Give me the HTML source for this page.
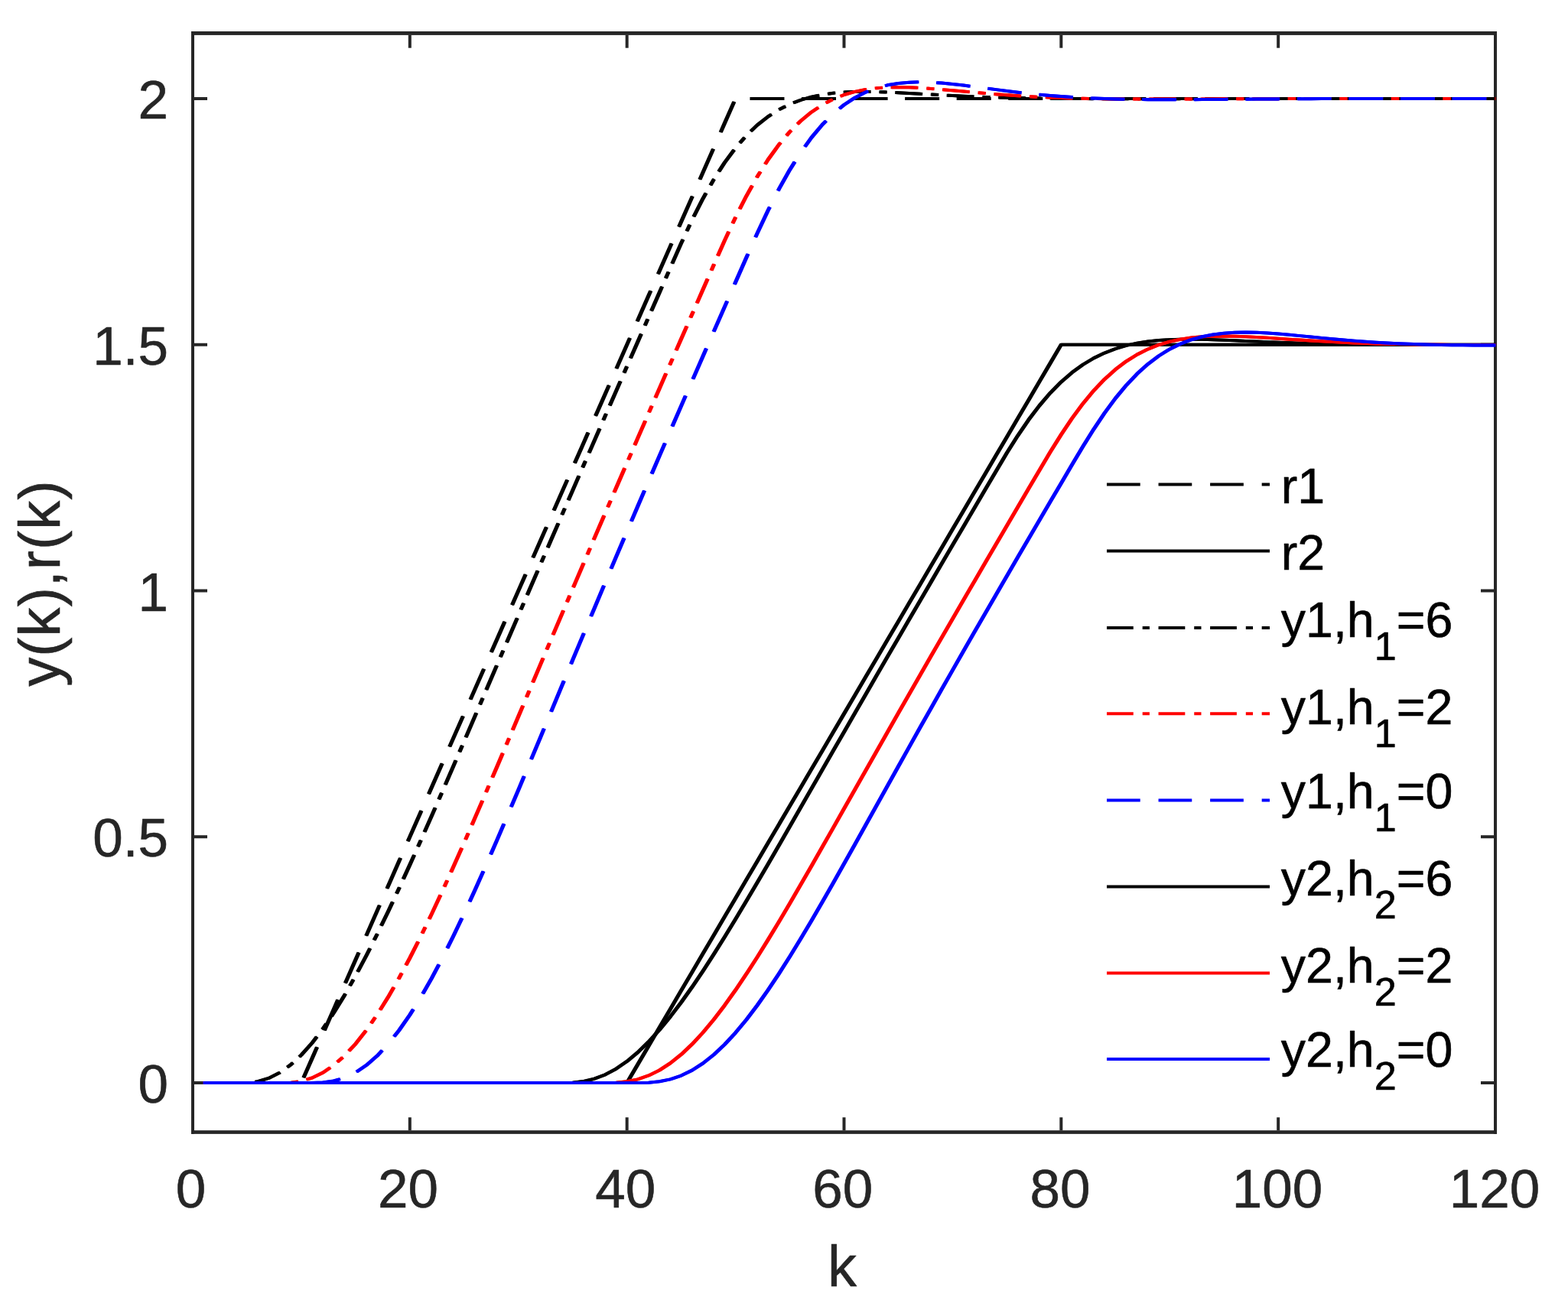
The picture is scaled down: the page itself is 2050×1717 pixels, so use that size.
<!DOCTYPE html><html><head><meta charset="utf-8"><style>html,body{margin:0;padding:0;background:#fff;overflow:hidden;}svg{display:block;}text{font-family:"Liberation Sans",Arial,Helvetica,sans-serif;stroke-width:0.6px;stroke-linejoin:round;}</style></head><body>
<svg width="2050" height="1717" viewBox="0 0 2050 1717">
<rect x="0" y="0" width="2050" height="1717" fill="#fff"/>
<g fill="#262626">
<rect x="250" y="41" width="4" height="1441.85"/>
<rect x="1953" y="41" width="4" height="1441.85"/>
<rect x="250" y="41" width="1707" height="4.9"/>
<rect x="250" y="1478.2" width="1707" height="4.65"/>
<rect x="250.00" y="45.9" width="4" height="16.8"/>
<rect x="250.00" y="1461.2" width="4" height="17"/>
<rect x="533.83" y="45.9" width="4" height="16.8"/>
<rect x="533.83" y="1461.2" width="4" height="17"/>
<rect x="817.67" y="45.9" width="4" height="16.8"/>
<rect x="817.67" y="1461.2" width="4" height="17"/>
<rect x="1101.50" y="45.9" width="4" height="16.8"/>
<rect x="1101.50" y="1461.2" width="4" height="17"/>
<rect x="1385.33" y="45.9" width="4" height="16.8"/>
<rect x="1385.33" y="1461.2" width="4" height="17"/>
<rect x="1669.17" y="45.9" width="4" height="16.8"/>
<rect x="1669.17" y="1461.2" width="4" height="17"/>
<rect x="1953.00" y="45.9" width="4" height="16.8"/>
<rect x="1953.00" y="1461.2" width="4" height="17"/>
<rect x="254" y="1414.00" width="17" height="4"/>
<rect x="1936" y="1414.00" width="17" height="4"/>
<rect x="254" y="1092.25" width="17" height="4"/>
<rect x="1936" y="1092.25" width="17" height="4"/>
<rect x="254" y="770.50" width="17" height="4"/>
<rect x="1936" y="770.50" width="17" height="4"/>
<rect x="254" y="448.75" width="17" height="4"/>
<rect x="1936" y="448.75" width="17" height="4"/>
<rect x="254" y="127.00" width="17" height="4"/>
<rect x="1936" y="127.00" width="17" height="4"/>
</g>
<g fill="#262626" stroke="#262626" font-size="71">
<text x="249.50" y="1578.6" text-anchor="middle">0</text>
<text x="533.60" y="1578.6" text-anchor="middle">20</text>
<text x="817.70" y="1578.6" text-anchor="middle">40</text>
<text x="1101.80" y="1578.6" text-anchor="middle">60</text>
<text x="1385.90" y="1578.6" text-anchor="middle">80</text>
<text x="1670.00" y="1578.6" text-anchor="middle">100</text>
<text x="1954.10" y="1578.6" text-anchor="middle">120</text>
<text x="220" y="1442.00" text-anchor="end">0</text>
<text x="220" y="1120.25" text-anchor="end">0.5</text>
<text x="220" y="798.50" text-anchor="end">1</text>
<text x="220" y="476.75" text-anchor="end">1.5</text>
<text x="220" y="155.00" text-anchor="end">2</text>
</g>
<text x="1100.9" y="1682" font-size="76" fill="#262626" stroke="#262626" text-anchor="middle">k</text>
<text transform="translate(77.9,765.4) rotate(-90)" x="-132.4" y="0" font-size="76" fill="#262626" stroke="#262626" textLength="269.3" lengthAdjust="spacing">y(k),r(k)</text>
<g fill="none" stroke-width="4" stroke-linejoin="round" stroke-linecap="butt">
<path d="M266.19,1416.00 L280.38,1416.00 L294.57,1416.00 L308.77,1416.00 L322.96,1416.00 L337.15,1416.00 L351.34,1416.00 L365.53,1416.00 L379.73,1416.00 L393.92,1416.00 L408.11,1383.83 L422.30,1351.65 L436.49,1319.47 L450.68,1287.30 L464.88,1255.12 L479.07,1222.95 L493.26,1190.78 L507.45,1158.60 L521.64,1126.42 L535.83,1094.25 L550.02,1062.08 L564.22,1029.90 L578.41,997.72 L592.60,965.55 L606.79,933.38 L620.98,901.20 L635.17,869.02 L649.37,836.85 L663.56,804.67 L677.75,772.50 L691.94,740.32 L706.13,708.15 L720.33,675.97 L734.52,643.80 L748.71,611.62 L762.90,579.45 L777.09,547.27 L791.28,515.10 L805.48,482.92 L819.67,450.75 L833.86,418.57 L848.05,386.40 L862.24,354.22 L876.43,322.05 L890.62,289.88 L904.82,257.70 L919.01,225.52 L933.20,193.35 L947.39,161.17 L961.58,129.00 L975.77,129.00 L989.97,129.00 L1004.16,129.00 L1018.35,129.00 L1032.54,129.00 L1046.73,129.00 L1060.92,129.00 L1075.12,129.00 L1089.31,129.00 L1103.50,129.00 L1117.69,129.00 L1131.88,129.00 L1146.07,129.00 L1160.27,129.00 L1174.46,129.00 L1188.65,129.00 L1202.84,129.00 L1217.03,129.00 L1231.22,129.00 L1245.42,129.00 L1259.61,129.00 L1273.80,129.00 L1287.99,129.00 L1302.18,129.00 L1316.38,129.00 L1330.57,129.00 L1344.76,129.00 L1358.95,129.00 L1373.14,129.00 L1387.33,129.00 L1401.53,129.00 L1415.72,129.00 L1429.91,129.00 L1444.10,129.00 L1458.29,129.00 L1472.48,129.00 L1486.67,129.00 L1500.87,129.00 L1515.06,129.00 L1529.25,129.00 L1543.44,129.00 L1557.63,129.00 L1571.83,129.00 L1586.02,129.00 L1600.21,129.00 L1614.40,129.00 L1628.59,129.00 L1642.78,129.00 L1656.97,129.00 L1671.17,129.00 L1685.36,129.00 L1699.55,129.00 L1713.74,129.00 L1727.93,129.00 L1742.12,129.00 L1756.32,129.00 L1770.51,129.00 L1784.70,129.00 L1798.89,129.00 L1813.08,129.00 L1827.27,129.00 L1841.47,129.00 L1855.66,129.00 L1869.85,129.00 L1884.04,129.00 L1898.23,129.00 L1912.42,129.00 L1926.62,129.00 L1940.81,129.00 L1955.00,129.00" stroke="#000" stroke-dasharray="43.72 23.84" transform="translate(-0.65,0)"/>
<path d="M266.19,1416.00 L280.38,1416.00 L294.57,1416.00 L308.77,1416.00 L322.96,1416.00 L337.15,1416.00 L351.34,1416.00 L365.53,1416.00 L379.73,1416.00 L393.92,1416.00 L408.11,1383.83 L422.30,1351.65 L436.49,1319.47 L450.68,1287.30 L464.88,1255.12 L479.07,1222.95 L493.26,1190.78 L507.45,1158.60 L521.64,1126.42 L535.83,1094.25 L550.02,1062.08 L564.22,1029.90 L578.41,997.72 L592.60,965.55 L606.79,933.38 L620.98,901.20 L635.17,869.02 L649.37,836.85 L663.56,804.67 L677.75,772.50 L691.94,740.32 L706.13,708.15 L720.33,675.97 L734.52,643.80 L748.71,611.62 L762.90,579.45 L777.09,547.27 L791.28,515.10 L805.48,482.92 L819.67,450.75 L833.86,418.57 L848.05,386.40 L862.24,354.22 L876.43,322.05 L890.62,289.88 L904.82,257.70 L919.01,225.52 L933.20,193.35 L947.39,161.17 L961.58,129.00 L975.77,129.00 L989.97,129.00 L1004.16,129.00 L1018.35,129.00 L1032.54,129.00 L1046.73,129.00 L1060.92,129.00 L1075.12,129.00 L1089.31,129.00 L1103.50,129.00 L1117.69,129.00 L1131.88,129.00 L1146.07,129.00 L1160.27,129.00 L1174.46,129.00 L1188.65,129.00 L1202.84,129.00 L1217.03,129.00 L1231.22,129.00 L1245.42,129.00 L1259.61,129.00 L1273.80,129.00 L1287.99,129.00 L1302.18,129.00 L1316.38,129.00 L1330.57,129.00 L1344.76,129.00 L1358.95,129.00 L1373.14,129.00 L1387.33,129.00 L1401.53,129.00 L1415.72,129.00 L1429.91,129.00 L1444.10,129.00 L1458.29,129.00 L1472.48,129.00 L1486.67,129.00 L1500.87,129.00 L1515.06,129.00 L1529.25,129.00 L1543.44,129.00 L1557.63,129.00 L1571.83,129.00 L1586.02,129.00 L1600.21,129.00 L1614.40,129.00 L1628.59,129.00 L1642.78,129.00 L1656.97,129.00 L1671.17,129.00 L1685.36,129.00 L1699.55,129.00 L1713.74,129.00 L1727.93,129.00 L1742.12,129.00 L1756.32,129.00 L1770.51,129.00 L1784.70,129.00 L1798.89,129.00 L1813.08,129.00 L1827.27,129.00 L1841.47,129.00 L1855.66,129.00 L1869.85,129.00 L1884.04,129.00 L1898.23,129.00 L1912.42,129.00 L1926.62,129.00 L1940.81,129.00 L1955.00,129.00" stroke="#000" stroke-dasharray="43.72 23.84" transform="translate(0.65,0)"/>
<path d="M266.19,1416.00 L280.38,1416.00 L294.57,1416.00 L308.77,1416.00 L322.96,1416.00 L337.15,1416.00 L351.34,1416.00 L365.53,1416.00 L379.73,1416.00 L393.92,1416.00 L408.11,1416.00 L422.30,1416.00 L436.49,1416.00 L450.68,1416.00 L464.88,1416.00 L479.07,1416.00 L493.26,1416.00 L507.45,1416.00 L521.64,1416.00 L535.83,1416.00 L550.02,1416.00 L564.22,1416.00 L578.41,1416.00 L592.60,1416.00 L606.79,1416.00 L620.98,1416.00 L635.17,1416.00 L649.37,1416.00 L663.56,1416.00 L677.75,1416.00 L691.94,1416.00 L706.13,1416.00 L720.33,1416.00 L734.52,1416.00 L748.71,1416.00 L762.90,1416.00 L777.09,1416.00 L791.28,1416.00 L805.48,1416.00 L819.67,1416.00 L833.86,1391.87 L848.05,1367.74 L862.24,1343.61 L876.43,1319.47 L890.62,1295.34 L904.82,1271.21 L919.01,1247.08 L933.20,1222.95 L947.39,1198.82 L961.58,1174.69 L975.77,1150.56 L989.97,1126.42 L1004.16,1102.29 L1018.35,1078.16 L1032.54,1054.03 L1046.73,1029.90 L1060.92,1005.77 L1075.12,981.64 L1089.31,957.51 L1103.50,933.38 L1117.69,909.24 L1131.88,885.11 L1146.07,860.98 L1160.27,836.85 L1174.46,812.72 L1188.65,788.59 L1202.84,764.46 L1217.03,740.32 L1231.22,716.19 L1245.42,692.06 L1259.61,667.93 L1273.80,643.80 L1287.99,619.67 L1302.18,595.54 L1316.38,571.41 L1330.57,547.28 L1344.76,523.14 L1358.95,499.01 L1373.14,474.88 L1387.33,450.75 L1401.53,450.75 L1415.72,450.75 L1429.91,450.75 L1444.10,450.75 L1458.29,450.75 L1472.48,450.75 L1486.67,450.75 L1500.87,450.75 L1515.06,450.75 L1529.25,450.75 L1543.44,450.75 L1557.63,450.75 L1571.83,450.75 L1586.02,450.75 L1600.21,450.75 L1614.40,450.75 L1628.59,450.75 L1642.78,450.75 L1656.97,450.75 L1671.17,450.75 L1685.36,450.75 L1699.55,450.75 L1713.74,450.75 L1727.93,450.75 L1742.12,450.75 L1756.32,450.75 L1770.51,450.75 L1784.70,450.75 L1798.89,450.75 L1813.08,450.75 L1827.27,450.75 L1841.47,450.75 L1855.66,450.75 L1869.85,450.75 L1884.04,450.75 L1898.23,450.75 L1912.42,450.75 L1926.62,450.75 L1940.81,450.75 L1955.00,450.75" stroke="#000" transform="translate(-0.65,0)"/>
<path d="M266.19,1416.00 L280.38,1416.00 L294.57,1416.00 L308.77,1416.00 L322.96,1416.00 L337.15,1416.00 L351.34,1416.00 L365.53,1416.00 L379.73,1416.00 L393.92,1416.00 L408.11,1416.00 L422.30,1416.00 L436.49,1416.00 L450.68,1416.00 L464.88,1416.00 L479.07,1416.00 L493.26,1416.00 L507.45,1416.00 L521.64,1416.00 L535.83,1416.00 L550.02,1416.00 L564.22,1416.00 L578.41,1416.00 L592.60,1416.00 L606.79,1416.00 L620.98,1416.00 L635.17,1416.00 L649.37,1416.00 L663.56,1416.00 L677.75,1416.00 L691.94,1416.00 L706.13,1416.00 L720.33,1416.00 L734.52,1416.00 L748.71,1416.00 L762.90,1416.00 L777.09,1416.00 L791.28,1416.00 L805.48,1416.00 L819.67,1416.00 L833.86,1391.87 L848.05,1367.74 L862.24,1343.61 L876.43,1319.47 L890.62,1295.34 L904.82,1271.21 L919.01,1247.08 L933.20,1222.95 L947.39,1198.82 L961.58,1174.69 L975.77,1150.56 L989.97,1126.42 L1004.16,1102.29 L1018.35,1078.16 L1032.54,1054.03 L1046.73,1029.90 L1060.92,1005.77 L1075.12,981.64 L1089.31,957.51 L1103.50,933.38 L1117.69,909.24 L1131.88,885.11 L1146.07,860.98 L1160.27,836.85 L1174.46,812.72 L1188.65,788.59 L1202.84,764.46 L1217.03,740.32 L1231.22,716.19 L1245.42,692.06 L1259.61,667.93 L1273.80,643.80 L1287.99,619.67 L1302.18,595.54 L1316.38,571.41 L1330.57,547.28 L1344.76,523.14 L1358.95,499.01 L1373.14,474.88 L1387.33,450.75 L1401.53,450.75 L1415.72,450.75 L1429.91,450.75 L1444.10,450.75 L1458.29,450.75 L1472.48,450.75 L1486.67,450.75 L1500.87,450.75 L1515.06,450.75 L1529.25,450.75 L1543.44,450.75 L1557.63,450.75 L1571.83,450.75 L1586.02,450.75 L1600.21,450.75 L1614.40,450.75 L1628.59,450.75 L1642.78,450.75 L1656.97,450.75 L1671.17,450.75 L1685.36,450.75 L1699.55,450.75 L1713.74,450.75 L1727.93,450.75 L1742.12,450.75 L1756.32,450.75 L1770.51,450.75 L1784.70,450.75 L1798.89,450.75 L1813.08,450.75 L1827.27,450.75 L1841.47,450.75 L1855.66,450.75 L1869.85,450.75 L1884.04,450.75 L1898.23,450.75 L1912.42,450.75 L1926.62,450.75 L1940.81,450.75 L1955.00,450.75" stroke="#000" transform="translate(0.65,0)"/>
<path d="M266.19,1416.00 L280.38,1416.00 L294.57,1416.00 L308.77,1416.00 L322.96,1415.92 L337.15,1414.23 L351.34,1409.95 L365.53,1402.81 L379.73,1392.69 L393.92,1379.62 L408.11,1363.71 L422.30,1345.17 L436.49,1324.21 L450.68,1301.09 L464.88,1276.06 L479.07,1249.39 L493.26,1221.32 L507.45,1192.09 L521.64,1161.89 L535.83,1130.91 L550.02,1099.33 L564.22,1067.28 L578.41,1034.88 L592.60,1002.23 L606.79,969.41 L620.98,936.50 L635.17,903.54 L649.37,870.58 L663.56,837.63 L677.75,804.73 L691.94,771.88 L706.13,739.10 L720.33,706.39 L734.52,673.75 L748.71,641.18 L762.90,608.66 L777.09,576.21 L791.28,543.81 L805.48,511.45 L819.67,479.14 L833.86,446.86 L848.05,414.61 L862.24,382.38 L876.43,350.17 L890.62,318.05 L904.82,287.57 L919.01,259.67 L933.20,234.65 L947.39,212.61 L961.58,193.52 L975.77,177.27 L989.97,163.65 L1004.16,152.46 L1018.35,143.42 L1032.54,136.29 L1046.73,130.80 L1060.92,126.70 L1075.12,123.78 L1089.31,121.81 L1103.50,120.62 L1117.69,120.04 L1131.88,119.92 L1146.07,120.15 L1160.27,120.63 L1174.46,121.27 L1188.65,122.01 L1202.84,122.79 L1217.03,123.59 L1231.22,124.36 L1245.42,125.08 L1259.61,125.75 L1273.80,126.36 L1287.99,126.89 L1302.18,127.36 L1316.38,127.76 L1330.57,128.10 L1344.76,128.37 L1358.95,128.60 L1373.14,128.78 L1387.33,128.92 L1401.53,129.03 L1415.72,129.10 L1429.91,129.15 L1444.10,129.19 L1458.29,129.21 L1472.48,129.21 L1486.67,129.21 L1500.87,129.20 L1515.06,129.19 L1529.25,129.17 L1543.44,129.15 L1557.63,129.13 L1571.83,129.11 L1586.02,129.10 L1600.21,129.08 L1614.40,129.07 L1628.59,129.05 L1642.78,129.04 L1656.97,129.03 L1671.17,129.02 L1685.36,129.02 L1699.55,129.01 L1713.74,129.01 L1727.93,129.00 L1742.12,129.00 L1756.32,129.00 L1770.51,129.00 L1784.70,129.00 L1798.89,129.00 L1813.08,129.00 L1827.27,129.00 L1841.47,129.00 L1855.66,129.00 L1869.85,129.00 L1884.04,129.00 L1898.23,129.00 L1912.42,129.00 L1926.62,129.00 L1940.81,129.00 L1955.00,129.00" stroke="#000" stroke-dasharray="34.77 11.92 9.24 11.63" transform="translate(-0.65,0)"/>
<path d="M266.19,1416.00 L280.38,1416.00 L294.57,1416.00 L308.77,1416.00 L322.96,1415.92 L337.15,1414.23 L351.34,1409.95 L365.53,1402.81 L379.73,1392.69 L393.92,1379.62 L408.11,1363.71 L422.30,1345.17 L436.49,1324.21 L450.68,1301.09 L464.88,1276.06 L479.07,1249.39 L493.26,1221.32 L507.45,1192.09 L521.64,1161.89 L535.83,1130.91 L550.02,1099.33 L564.22,1067.28 L578.41,1034.88 L592.60,1002.23 L606.79,969.41 L620.98,936.50 L635.17,903.54 L649.37,870.58 L663.56,837.63 L677.75,804.73 L691.94,771.88 L706.13,739.10 L720.33,706.39 L734.52,673.75 L748.71,641.18 L762.90,608.66 L777.09,576.21 L791.28,543.81 L805.48,511.45 L819.67,479.14 L833.86,446.86 L848.05,414.61 L862.24,382.38 L876.43,350.17 L890.62,318.05 L904.82,287.57 L919.01,259.67 L933.20,234.65 L947.39,212.61 L961.58,193.52 L975.77,177.27 L989.97,163.65 L1004.16,152.46 L1018.35,143.42 L1032.54,136.29 L1046.73,130.80 L1060.92,126.70 L1075.12,123.78 L1089.31,121.81 L1103.50,120.62 L1117.69,120.04 L1131.88,119.92 L1146.07,120.15 L1160.27,120.63 L1174.46,121.27 L1188.65,122.01 L1202.84,122.79 L1217.03,123.59 L1231.22,124.36 L1245.42,125.08 L1259.61,125.75 L1273.80,126.36 L1287.99,126.89 L1302.18,127.36 L1316.38,127.76 L1330.57,128.10 L1344.76,128.37 L1358.95,128.60 L1373.14,128.78 L1387.33,128.92 L1401.53,129.03 L1415.72,129.10 L1429.91,129.15 L1444.10,129.19 L1458.29,129.21 L1472.48,129.21 L1486.67,129.21 L1500.87,129.20 L1515.06,129.19 L1529.25,129.17 L1543.44,129.15 L1557.63,129.13 L1571.83,129.11 L1586.02,129.10 L1600.21,129.08 L1614.40,129.07 L1628.59,129.05 L1642.78,129.04 L1656.97,129.03 L1671.17,129.02 L1685.36,129.02 L1699.55,129.01 L1713.74,129.01 L1727.93,129.00 L1742.12,129.00 L1756.32,129.00 L1770.51,129.00 L1784.70,129.00 L1798.89,129.00 L1813.08,129.00 L1827.27,129.00 L1841.47,129.00 L1855.66,129.00 L1869.85,129.00 L1884.04,129.00 L1898.23,129.00 L1912.42,129.00 L1926.62,129.00 L1940.81,129.00 L1955.00,129.00" stroke="#000" stroke-dasharray="34.77 11.92 9.24 11.63" transform="translate(0.65,0)"/>
<path d="M266.19,1416.00 L280.38,1416.00 L294.57,1416.00 L308.77,1416.00 L322.96,1416.00 L337.15,1416.00 L351.34,1416.00 L365.53,1416.00 L379.73,1415.73 L393.92,1413.79 L408.11,1409.53 L422.30,1402.63 L436.49,1392.93 L450.68,1380.38 L464.88,1365.04 L479.07,1347.06 L493.26,1326.61 L507.45,1303.92 L521.64,1279.22 L535.83,1252.75 L550.02,1224.77 L564.22,1195.50 L578.41,1165.15 L592.60,1133.93 L606.79,1102.02 L620.98,1069.57 L635.17,1036.72 L649.37,1003.59 L663.56,970.27 L677.75,936.85 L691.94,903.39 L706.13,869.94 L720.33,836.54 L734.52,803.21 L748.71,769.97 L762.90,736.85 L777.09,703.83 L791.28,670.92 L805.48,638.12 L819.67,605.41 L833.86,572.81 L848.05,540.29 L862.24,507.84 L876.43,475.46 L890.62,443.13 L904.82,410.86 L919.01,378.62 L933.20,346.42 L947.39,314.50 L961.58,284.29 L975.77,256.40 L989.97,231.16 L1004.16,208.74 L1018.35,189.16 L1032.54,172.37 L1046.73,158.23 L1060.92,146.55 L1075.12,137.11 L1089.31,129.68 L1103.50,124.00 L1117.69,119.84 L1131.88,116.97 L1146.07,115.16 L1160.27,114.22 L1174.46,113.98 L1188.65,114.27 L1202.84,114.95 L1217.03,115.92 L1231.22,117.06 L1245.42,118.31 L1259.61,119.60 L1273.80,120.88 L1287.99,122.10 L1302.18,123.26 L1316.38,124.31 L1330.57,125.27 L1344.76,126.11 L1358.95,126.84 L1373.14,127.47 L1387.33,127.99 L1401.53,128.42 L1415.72,128.77 L1429.91,129.04 L1444.10,129.24 L1458.29,129.39 L1472.48,129.49 L1486.67,129.55 L1500.87,129.58 L1515.06,129.58 L1529.25,129.57 L1543.44,129.54 L1557.63,129.50 L1571.83,129.45 L1586.02,129.40 L1600.21,129.35 L1614.40,129.30 L1628.59,129.26 L1642.78,129.21 L1656.97,129.17 L1671.17,129.14 L1685.36,129.10 L1699.55,129.08 L1713.74,129.05 L1727.93,129.03 L1742.12,129.02 L1756.32,129.01 L1770.51,129.00 L1784.70,128.99 L1798.89,128.98 L1813.08,128.98 L1827.27,128.98 L1841.47,128.98 L1855.66,128.98 L1869.85,128.98 L1884.04,128.98 L1898.23,128.98 L1912.42,128.98 L1926.62,128.98 L1940.81,128.99 L1955.00,128.99" stroke="#f00" stroke-dasharray="34.77 11.92 9.24 11.63" transform="translate(-0.65,0)"/>
<path d="M266.19,1416.00 L280.38,1416.00 L294.57,1416.00 L308.77,1416.00 L322.96,1416.00 L337.15,1416.00 L351.34,1416.00 L365.53,1416.00 L379.73,1415.73 L393.92,1413.79 L408.11,1409.53 L422.30,1402.63 L436.49,1392.93 L450.68,1380.38 L464.88,1365.04 L479.07,1347.06 L493.26,1326.61 L507.45,1303.92 L521.64,1279.22 L535.83,1252.75 L550.02,1224.77 L564.22,1195.50 L578.41,1165.15 L592.60,1133.93 L606.79,1102.02 L620.98,1069.57 L635.17,1036.72 L649.37,1003.59 L663.56,970.27 L677.75,936.85 L691.94,903.39 L706.13,869.94 L720.33,836.54 L734.52,803.21 L748.71,769.97 L762.90,736.85 L777.09,703.83 L791.28,670.92 L805.48,638.12 L819.67,605.41 L833.86,572.81 L848.05,540.29 L862.24,507.84 L876.43,475.46 L890.62,443.13 L904.82,410.86 L919.01,378.62 L933.20,346.42 L947.39,314.50 L961.58,284.29 L975.77,256.40 L989.97,231.16 L1004.16,208.74 L1018.35,189.16 L1032.54,172.37 L1046.73,158.23 L1060.92,146.55 L1075.12,137.11 L1089.31,129.68 L1103.50,124.00 L1117.69,119.84 L1131.88,116.97 L1146.07,115.16 L1160.27,114.22 L1174.46,113.98 L1188.65,114.27 L1202.84,114.95 L1217.03,115.92 L1231.22,117.06 L1245.42,118.31 L1259.61,119.60 L1273.80,120.88 L1287.99,122.10 L1302.18,123.26 L1316.38,124.31 L1330.57,125.27 L1344.76,126.11 L1358.95,126.84 L1373.14,127.47 L1387.33,127.99 L1401.53,128.42 L1415.72,128.77 L1429.91,129.04 L1444.10,129.24 L1458.29,129.39 L1472.48,129.49 L1486.67,129.55 L1500.87,129.58 L1515.06,129.58 L1529.25,129.57 L1543.44,129.54 L1557.63,129.50 L1571.83,129.45 L1586.02,129.40 L1600.21,129.35 L1614.40,129.30 L1628.59,129.26 L1642.78,129.21 L1656.97,129.17 L1671.17,129.14 L1685.36,129.10 L1699.55,129.08 L1713.74,129.05 L1727.93,129.03 L1742.12,129.02 L1756.32,129.01 L1770.51,129.00 L1784.70,128.99 L1798.89,128.98 L1813.08,128.98 L1827.27,128.98 L1841.47,128.98 L1855.66,128.98 L1869.85,128.98 L1884.04,128.98 L1898.23,128.98 L1912.42,128.98 L1926.62,128.98 L1940.81,128.99 L1955.00,128.99" stroke="#f00" stroke-dasharray="34.77 11.92 9.24 11.63" transform="translate(0.65,0)"/>
<path d="M266.19,1416.00 L280.38,1416.00 L294.57,1416.00 L308.77,1416.00 L322.96,1416.00 L337.15,1416.00 L351.34,1416.00 L365.53,1416.00 L379.73,1416.00 L393.92,1416.00 L408.11,1416.00 L422.30,1415.57 L436.49,1413.52 L450.68,1409.27 L464.88,1402.48 L479.07,1392.93 L493.26,1380.55 L507.45,1365.37 L521.64,1347.49 L535.83,1327.07 L550.02,1304.32 L564.22,1279.46 L578.41,1252.75 L592.60,1224.42 L606.79,1194.71 L620.98,1163.86 L635.17,1132.07 L649.37,1099.54 L663.56,1066.44 L677.75,1032.93 L691.94,999.14 L706.13,965.17 L720.33,931.13 L734.52,897.08 L748.71,863.08 L762.90,829.18 L777.09,795.41 L791.28,761.78 L805.48,728.31 L819.67,695.00 L833.86,661.85 L848.05,628.86 L862.24,596.02 L876.43,563.30 L890.62,530.71 L904.82,498.23 L919.01,465.83 L933.20,433.52 L947.39,401.27 L961.58,369.08 L975.77,336.92 L989.97,305.23 L1004.16,275.19 L1018.35,247.35 L1032.54,222.07 L1046.73,199.55 L1060.92,179.86 L1075.12,162.97 L1089.31,148.78 L1103.50,137.11 L1117.69,127.77 L1131.88,120.53 L1146.07,115.13 L1160.27,111.34 L1174.46,108.92 L1188.65,107.64 L1202.84,107.29 L1217.03,107.66 L1231.22,108.60 L1245.42,109.95 L1259.61,111.58 L1273.80,113.37 L1287.99,115.24 L1302.18,117.11 L1316.38,118.93 L1330.57,120.66 L1344.76,122.25 L1358.95,123.70 L1373.14,124.99 L1387.33,126.11 L1401.53,127.08 L1415.72,127.89 L1429.91,128.55 L1444.10,129.09 L1458.29,129.50 L1472.48,129.81 L1486.67,130.02 L1500.87,130.16 L1515.06,130.23 L1529.25,130.25 L1543.44,130.22 L1557.63,130.17 L1571.83,130.09 L1586.02,130.00 L1600.21,129.89 L1614.40,129.79 L1628.59,129.68 L1642.78,129.58 L1656.97,129.48 L1671.17,129.38 L1685.36,129.30 L1699.55,129.23 L1713.74,129.16 L1727.93,129.11 L1742.12,129.06 L1756.32,129.02 L1770.51,128.99 L1784.70,128.97 L1798.89,128.95 L1813.08,128.94 L1827.27,128.93 L1841.47,128.93 L1855.66,128.93 L1869.85,128.93 L1884.04,128.93 L1898.23,128.94 L1912.42,128.94 L1926.62,128.95 L1940.81,128.95 L1955.00,128.96" stroke="#00f" stroke-dasharray="43.72 23.84" transform="translate(-0.65,0)"/>
<path d="M266.19,1416.00 L280.38,1416.00 L294.57,1416.00 L308.77,1416.00 L322.96,1416.00 L337.15,1416.00 L351.34,1416.00 L365.53,1416.00 L379.73,1416.00 L393.92,1416.00 L408.11,1416.00 L422.30,1415.57 L436.49,1413.52 L450.68,1409.27 L464.88,1402.48 L479.07,1392.93 L493.26,1380.55 L507.45,1365.37 L521.64,1347.49 L535.83,1327.07 L550.02,1304.32 L564.22,1279.46 L578.41,1252.75 L592.60,1224.42 L606.79,1194.71 L620.98,1163.86 L635.17,1132.07 L649.37,1099.54 L663.56,1066.44 L677.75,1032.93 L691.94,999.14 L706.13,965.17 L720.33,931.13 L734.52,897.08 L748.71,863.08 L762.90,829.18 L777.09,795.41 L791.28,761.78 L805.48,728.31 L819.67,695.00 L833.86,661.85 L848.05,628.86 L862.24,596.02 L876.43,563.30 L890.62,530.71 L904.82,498.23 L919.01,465.83 L933.20,433.52 L947.39,401.27 L961.58,369.08 L975.77,336.92 L989.97,305.23 L1004.16,275.19 L1018.35,247.35 L1032.54,222.07 L1046.73,199.55 L1060.92,179.86 L1075.12,162.97 L1089.31,148.78 L1103.50,137.11 L1117.69,127.77 L1131.88,120.53 L1146.07,115.13 L1160.27,111.34 L1174.46,108.92 L1188.65,107.64 L1202.84,107.29 L1217.03,107.66 L1231.22,108.60 L1245.42,109.95 L1259.61,111.58 L1273.80,113.37 L1287.99,115.24 L1302.18,117.11 L1316.38,118.93 L1330.57,120.66 L1344.76,122.25 L1358.95,123.70 L1373.14,124.99 L1387.33,126.11 L1401.53,127.08 L1415.72,127.89 L1429.91,128.55 L1444.10,129.09 L1458.29,129.50 L1472.48,129.81 L1486.67,130.02 L1500.87,130.16 L1515.06,130.23 L1529.25,130.25 L1543.44,130.22 L1557.63,130.17 L1571.83,130.09 L1586.02,130.00 L1600.21,129.89 L1614.40,129.79 L1628.59,129.68 L1642.78,129.58 L1656.97,129.48 L1671.17,129.38 L1685.36,129.30 L1699.55,129.23 L1713.74,129.16 L1727.93,129.11 L1742.12,129.06 L1756.32,129.02 L1770.51,128.99 L1784.70,128.97 L1798.89,128.95 L1813.08,128.94 L1827.27,128.93 L1841.47,128.93 L1855.66,128.93 L1869.85,128.93 L1884.04,128.93 L1898.23,128.94 L1912.42,128.94 L1926.62,128.95 L1940.81,128.95 L1955.00,128.96" stroke="#00f" stroke-dasharray="43.72 23.84" transform="translate(0.65,0)"/>
<path d="M266.19,1416.00 L280.38,1416.00 L294.57,1416.00 L308.77,1416.00 L322.96,1416.00 L337.15,1416.00 L351.34,1416.00 L365.53,1416.00 L379.73,1416.00 L393.92,1416.00 L408.11,1416.00 L422.30,1416.00 L436.49,1416.00 L450.68,1416.00 L464.88,1416.00 L479.07,1416.00 L493.26,1416.00 L507.45,1416.00 L521.64,1416.00 L535.83,1416.00 L550.02,1416.00 L564.22,1416.00 L578.41,1416.00 L592.60,1416.00 L606.79,1416.00 L620.98,1416.00 L635.17,1416.00 L649.37,1416.00 L663.56,1416.00 L677.75,1416.00 L691.94,1416.00 L706.13,1416.00 L720.33,1416.00 L734.52,1416.00 L748.71,1415.72 L762.90,1414.11 L777.09,1410.71 L791.28,1405.27 L805.48,1397.68 L819.67,1387.93 L833.86,1376.09 L848.05,1362.28 L862.24,1346.66 L876.43,1329.41 L890.62,1310.72 L904.82,1290.78 L919.01,1269.78 L933.20,1247.88 L947.39,1225.25 L961.58,1202.03 L975.77,1178.33 L989.97,1154.28 L1004.16,1129.96 L1018.35,1105.45 L1032.54,1080.81 L1046.73,1056.09 L1060.92,1031.35 L1075.12,1006.59 L1089.31,981.86 L1103.50,957.16 L1117.69,932.50 L1131.88,907.90 L1146.07,883.35 L1160.27,858.85 L1174.46,834.41 L1188.65,810.02 L1202.84,785.67 L1217.03,761.37 L1231.22,737.10 L1245.42,712.86 L1259.61,688.65 L1273.80,664.47 L1287.99,640.30 L1302.18,616.14 L1316.38,592.29 L1330.57,569.76 L1344.76,549.03 L1358.95,530.35 L1373.14,513.82 L1387.33,499.45 L1401.53,487.18 L1415.72,476.88 L1429.91,468.38 L1444.10,461.52 L1458.29,456.09 L1472.48,451.90 L1486.67,448.79 L1500.87,446.56 L1515.06,445.07 L1529.25,444.17 L1543.44,443.74 L1557.63,443.66 L1571.83,443.86 L1586.02,444.24 L1600.21,444.75 L1614.40,445.33 L1628.59,445.95 L1642.78,446.57 L1656.97,447.18 L1671.17,447.75 L1685.36,448.27 L1699.55,448.74 L1713.74,449.16 L1727.93,449.52 L1742.12,449.83 L1756.32,450.09 L1770.51,450.31 L1784.70,450.48 L1798.89,450.62 L1813.08,450.72 L1827.27,450.80 L1841.47,450.86 L1855.66,450.89 L1869.85,450.92 L1884.04,450.93 L1898.23,450.93 L1912.42,450.92 L1926.62,450.91 L1940.81,450.90 L1955.00,450.89" stroke="#000" transform="translate(-0.65,0)"/>
<path d="M266.19,1416.00 L280.38,1416.00 L294.57,1416.00 L308.77,1416.00 L322.96,1416.00 L337.15,1416.00 L351.34,1416.00 L365.53,1416.00 L379.73,1416.00 L393.92,1416.00 L408.11,1416.00 L422.30,1416.00 L436.49,1416.00 L450.68,1416.00 L464.88,1416.00 L479.07,1416.00 L493.26,1416.00 L507.45,1416.00 L521.64,1416.00 L535.83,1416.00 L550.02,1416.00 L564.22,1416.00 L578.41,1416.00 L592.60,1416.00 L606.79,1416.00 L620.98,1416.00 L635.17,1416.00 L649.37,1416.00 L663.56,1416.00 L677.75,1416.00 L691.94,1416.00 L706.13,1416.00 L720.33,1416.00 L734.52,1416.00 L748.71,1415.72 L762.90,1414.11 L777.09,1410.71 L791.28,1405.27 L805.48,1397.68 L819.67,1387.93 L833.86,1376.09 L848.05,1362.28 L862.24,1346.66 L876.43,1329.41 L890.62,1310.72 L904.82,1290.78 L919.01,1269.78 L933.20,1247.88 L947.39,1225.25 L961.58,1202.03 L975.77,1178.33 L989.97,1154.28 L1004.16,1129.96 L1018.35,1105.45 L1032.54,1080.81 L1046.73,1056.09 L1060.92,1031.35 L1075.12,1006.59 L1089.31,981.86 L1103.50,957.16 L1117.69,932.50 L1131.88,907.90 L1146.07,883.35 L1160.27,858.85 L1174.46,834.41 L1188.65,810.02 L1202.84,785.67 L1217.03,761.37 L1231.22,737.10 L1245.42,712.86 L1259.61,688.65 L1273.80,664.47 L1287.99,640.30 L1302.18,616.14 L1316.38,592.29 L1330.57,569.76 L1344.76,549.03 L1358.95,530.35 L1373.14,513.82 L1387.33,499.45 L1401.53,487.18 L1415.72,476.88 L1429.91,468.38 L1444.10,461.52 L1458.29,456.09 L1472.48,451.90 L1486.67,448.79 L1500.87,446.56 L1515.06,445.07 L1529.25,444.17 L1543.44,443.74 L1557.63,443.66 L1571.83,443.86 L1586.02,444.24 L1600.21,444.75 L1614.40,445.33 L1628.59,445.95 L1642.78,446.57 L1656.97,447.18 L1671.17,447.75 L1685.36,448.27 L1699.55,448.74 L1713.74,449.16 L1727.93,449.52 L1742.12,449.83 L1756.32,450.09 L1770.51,450.31 L1784.70,450.48 L1798.89,450.62 L1813.08,450.72 L1827.27,450.80 L1841.47,450.86 L1855.66,450.89 L1869.85,450.92 L1884.04,450.93 L1898.23,450.93 L1912.42,450.92 L1926.62,450.91 L1940.81,450.90 L1955.00,450.89" stroke="#000" transform="translate(0.65,0)"/>
<path d="M266.19,1416.00 L280.38,1416.00 L294.57,1416.00 L308.77,1416.00 L322.96,1416.00 L337.15,1416.00 L351.34,1416.00 L365.53,1416.00 L379.73,1416.00 L393.92,1416.00 L408.11,1416.00 L422.30,1416.00 L436.49,1416.00 L450.68,1416.00 L464.88,1416.00 L479.07,1416.00 L493.26,1416.00 L507.45,1416.00 L521.64,1416.00 L535.83,1416.00 L550.02,1416.00 L564.22,1416.00 L578.41,1416.00 L592.60,1416.00 L606.79,1416.00 L620.98,1416.00 L635.17,1416.00 L649.37,1416.00 L663.56,1416.00 L677.75,1416.00 L691.94,1416.00 L706.13,1416.00 L720.33,1416.00 L734.52,1416.00 L748.71,1416.00 L762.90,1416.00 L777.09,1416.00 L791.28,1416.00 L805.48,1415.68 L819.67,1414.32 L833.86,1411.37 L848.05,1406.47 L862.24,1399.46 L876.43,1390.27 L890.62,1378.93 L904.82,1365.54 L919.01,1350.25 L933.20,1333.23 L947.39,1314.67 L961.58,1294.78 L975.77,1273.73 L989.97,1251.71 L1004.16,1228.90 L1018.35,1205.44 L1032.54,1181.46 L1046.73,1157.10 L1060.92,1132.45 L1075.12,1107.61 L1089.31,1082.63 L1103.50,1057.58 L1117.69,1032.51 L1131.88,1007.45 L1146.07,982.43 L1160.27,957.46 L1174.46,932.56 L1188.65,907.74 L1202.84,883.00 L1217.03,858.34 L1231.22,833.75 L1245.42,809.23 L1259.61,784.78 L1273.80,760.39 L1287.99,736.05 L1302.18,711.76 L1316.38,687.51 L1330.57,663.29 L1344.76,639.10 L1358.95,614.93 L1373.14,591.10 L1387.33,568.33 L1401.53,547.16 L1415.72,527.93 L1429.91,510.83 L1444.10,495.92 L1458.29,483.15 L1472.48,472.44 L1486.67,463.62 L1500.87,456.53 L1515.06,450.98 L1529.25,446.77 L1543.44,443.70 L1557.63,441.60 L1571.83,440.30 L1586.02,439.64 L1600.21,439.49 L1614.40,439.73 L1628.59,440.26 L1642.78,440.98 L1656.97,441.83 L1671.17,442.75 L1685.36,443.69 L1699.55,444.62 L1713.74,445.51 L1727.93,446.35 L1742.12,447.11 L1756.32,447.80 L1770.51,448.41 L1784.70,448.94 L1798.89,449.40 L1813.08,449.79 L1827.27,450.10 L1841.47,450.36 L1855.66,450.57 L1869.85,450.73 L1884.04,450.85 L1898.23,450.94 L1912.42,451.00 L1926.62,451.03 L1940.81,451.05 L1955.00,451.05" stroke="#f00" transform="translate(-0.65,0)"/>
<path d="M266.19,1416.00 L280.38,1416.00 L294.57,1416.00 L308.77,1416.00 L322.96,1416.00 L337.15,1416.00 L351.34,1416.00 L365.53,1416.00 L379.73,1416.00 L393.92,1416.00 L408.11,1416.00 L422.30,1416.00 L436.49,1416.00 L450.68,1416.00 L464.88,1416.00 L479.07,1416.00 L493.26,1416.00 L507.45,1416.00 L521.64,1416.00 L535.83,1416.00 L550.02,1416.00 L564.22,1416.00 L578.41,1416.00 L592.60,1416.00 L606.79,1416.00 L620.98,1416.00 L635.17,1416.00 L649.37,1416.00 L663.56,1416.00 L677.75,1416.00 L691.94,1416.00 L706.13,1416.00 L720.33,1416.00 L734.52,1416.00 L748.71,1416.00 L762.90,1416.00 L777.09,1416.00 L791.28,1416.00 L805.48,1415.68 L819.67,1414.32 L833.86,1411.37 L848.05,1406.47 L862.24,1399.46 L876.43,1390.27 L890.62,1378.93 L904.82,1365.54 L919.01,1350.25 L933.20,1333.23 L947.39,1314.67 L961.58,1294.78 L975.77,1273.73 L989.97,1251.71 L1004.16,1228.90 L1018.35,1205.44 L1032.54,1181.46 L1046.73,1157.10 L1060.92,1132.45 L1075.12,1107.61 L1089.31,1082.63 L1103.50,1057.58 L1117.69,1032.51 L1131.88,1007.45 L1146.07,982.43 L1160.27,957.46 L1174.46,932.56 L1188.65,907.74 L1202.84,883.00 L1217.03,858.34 L1231.22,833.75 L1245.42,809.23 L1259.61,784.78 L1273.80,760.39 L1287.99,736.05 L1302.18,711.76 L1316.38,687.51 L1330.57,663.29 L1344.76,639.10 L1358.95,614.93 L1373.14,591.10 L1387.33,568.33 L1401.53,547.16 L1415.72,527.93 L1429.91,510.83 L1444.10,495.92 L1458.29,483.15 L1472.48,472.44 L1486.67,463.62 L1500.87,456.53 L1515.06,450.98 L1529.25,446.77 L1543.44,443.70 L1557.63,441.60 L1571.83,440.30 L1586.02,439.64 L1600.21,439.49 L1614.40,439.73 L1628.59,440.26 L1642.78,440.98 L1656.97,441.83 L1671.17,442.75 L1685.36,443.69 L1699.55,444.62 L1713.74,445.51 L1727.93,446.35 L1742.12,447.11 L1756.32,447.80 L1770.51,448.41 L1784.70,448.94 L1798.89,449.40 L1813.08,449.79 L1827.27,450.10 L1841.47,450.36 L1855.66,450.57 L1869.85,450.73 L1884.04,450.85 L1898.23,450.94 L1912.42,451.00 L1926.62,451.03 L1940.81,451.05 L1955.00,451.05" stroke="#f00" transform="translate(0.65,0)"/>
<path d="M266.19,1416.00 L280.38,1416.00 L294.57,1416.00 L308.77,1416.00 L322.96,1416.00 L337.15,1416.00 L351.34,1416.00 L365.53,1416.00 L379.73,1416.00 L393.92,1416.00 L408.11,1416.00 L422.30,1416.00 L436.49,1416.00 L450.68,1416.00 L464.88,1416.00 L479.07,1416.00 L493.26,1416.00 L507.45,1416.00 L521.64,1416.00 L535.83,1416.00 L550.02,1416.00 L564.22,1416.00 L578.41,1416.00 L592.60,1416.00 L606.79,1416.00 L620.98,1416.00 L635.17,1416.00 L649.37,1416.00 L663.56,1416.00 L677.75,1416.00 L691.94,1416.00 L706.13,1416.00 L720.33,1416.00 L734.52,1416.00 L748.71,1416.00 L762.90,1416.00 L777.09,1416.00 L791.28,1416.00 L805.48,1416.00 L819.67,1416.00 L833.86,1416.00 L848.05,1415.68 L862.24,1414.33 L876.43,1411.41 L890.62,1406.57 L904.82,1399.63 L919.01,1390.50 L933.20,1379.21 L947.39,1365.84 L961.58,1350.53 L975.77,1333.44 L989.97,1314.74 L1004.16,1294.64 L1018.35,1273.33 L1032.54,1251.00 L1046.73,1227.81 L1060.92,1203.93 L1075.12,1179.51 L1089.31,1154.68 L1103.50,1129.54 L1117.69,1104.21 L1131.88,1078.76 L1146.07,1053.25 L1160.27,1027.75 L1174.46,1002.28 L1188.65,976.89 L1202.84,951.59 L1217.03,926.40 L1231.22,901.33 L1245.42,876.37 L1259.61,851.53 L1273.80,826.80 L1287.99,802.17 L1302.18,777.64 L1316.38,753.20 L1330.57,728.83 L1344.76,704.53 L1358.95,680.29 L1373.14,656.09 L1387.33,631.93 L1401.53,607.80 L1415.72,584.02 L1429.91,561.28 L1444.10,540.13 L1458.29,520.89 L1472.48,503.77 L1486.67,488.84 L1500.87,476.06 L1515.06,465.37 L1529.25,456.61 L1543.44,449.63 L1557.63,444.24 L1571.83,440.25 L1586.02,437.47 L1600.21,435.71 L1614.40,434.79 L1628.59,434.56 L1642.78,434.87 L1656.97,435.58 L1671.17,436.59 L1685.36,437.80 L1699.55,439.13 L1713.74,440.50 L1727.93,441.88 L1742.12,443.21 L1756.32,444.47 L1770.51,445.63 L1784.70,446.69 L1798.89,447.63 L1813.08,448.45 L1827.27,449.16 L1841.47,449.76 L1855.66,450.25 L1869.85,450.64 L1884.04,450.95 L1898.23,451.19 L1912.42,451.36 L1926.62,451.47 L1940.81,451.53 L1955.00,451.56" stroke="#00f" transform="translate(-0.65,0)"/>
<path d="M266.19,1416.00 L280.38,1416.00 L294.57,1416.00 L308.77,1416.00 L322.96,1416.00 L337.15,1416.00 L351.34,1416.00 L365.53,1416.00 L379.73,1416.00 L393.92,1416.00 L408.11,1416.00 L422.30,1416.00 L436.49,1416.00 L450.68,1416.00 L464.88,1416.00 L479.07,1416.00 L493.26,1416.00 L507.45,1416.00 L521.64,1416.00 L535.83,1416.00 L550.02,1416.00 L564.22,1416.00 L578.41,1416.00 L592.60,1416.00 L606.79,1416.00 L620.98,1416.00 L635.17,1416.00 L649.37,1416.00 L663.56,1416.00 L677.75,1416.00 L691.94,1416.00 L706.13,1416.00 L720.33,1416.00 L734.52,1416.00 L748.71,1416.00 L762.90,1416.00 L777.09,1416.00 L791.28,1416.00 L805.48,1416.00 L819.67,1416.00 L833.86,1416.00 L848.05,1415.68 L862.24,1414.33 L876.43,1411.41 L890.62,1406.57 L904.82,1399.63 L919.01,1390.50 L933.20,1379.21 L947.39,1365.84 L961.58,1350.53 L975.77,1333.44 L989.97,1314.74 L1004.16,1294.64 L1018.35,1273.33 L1032.54,1251.00 L1046.73,1227.81 L1060.92,1203.93 L1075.12,1179.51 L1089.31,1154.68 L1103.50,1129.54 L1117.69,1104.21 L1131.88,1078.76 L1146.07,1053.25 L1160.27,1027.75 L1174.46,1002.28 L1188.65,976.89 L1202.84,951.59 L1217.03,926.40 L1231.22,901.33 L1245.42,876.37 L1259.61,851.53 L1273.80,826.80 L1287.99,802.17 L1302.18,777.64 L1316.38,753.20 L1330.57,728.83 L1344.76,704.53 L1358.95,680.29 L1373.14,656.09 L1387.33,631.93 L1401.53,607.80 L1415.72,584.02 L1429.91,561.28 L1444.10,540.13 L1458.29,520.89 L1472.48,503.77 L1486.67,488.84 L1500.87,476.06 L1515.06,465.37 L1529.25,456.61 L1543.44,449.63 L1557.63,444.24 L1571.83,440.25 L1586.02,437.47 L1600.21,435.71 L1614.40,434.79 L1628.59,434.56 L1642.78,434.87 L1656.97,435.58 L1671.17,436.59 L1685.36,437.80 L1699.55,439.13 L1713.74,440.50 L1727.93,441.88 L1742.12,443.21 L1756.32,444.47 L1770.51,445.63 L1784.70,446.69 L1798.89,447.63 L1813.08,448.45 L1827.27,449.16 L1841.47,449.76 L1855.66,450.25 L1869.85,450.64 L1884.04,450.95 L1898.23,451.19 L1912.42,451.36 L1926.62,451.47 L1940.81,451.53 L1955.00,451.56" stroke="#00f" transform="translate(0.65,0)"/>
</g>
<line x1="1447" y1="633.5" x2="1660" y2="633.5" stroke="#000" stroke-width="4" stroke-dasharray="43.72 23.84"/>
<text x="1674.8" y="658.0" font-size="64.5" fill="#000" stroke="#000">r1</text>
<line x1="1447" y1="720.6" x2="1660" y2="720.6" stroke="#000" stroke-width="4"/>
<text x="1674.8" y="744.9" font-size="64.5" fill="#000" stroke="#000">r2</text>
<line x1="1447" y1="821.0" x2="1660" y2="821.0" stroke="#000" stroke-width="4" stroke-dasharray="34.77 11.92 9.24 11.63"/>
<text x="1674.8" y="832.7" font-size="64.5" fill="#000" stroke="#000">y1,h<tspan font-size="52.2" dy="30.2">1</tspan><tspan dy="-30.2">=6</tspan></text>
<line x1="1447" y1="933.2" x2="1660" y2="933.2" stroke="#f00" stroke-width="4" stroke-dasharray="34.77 11.92 9.24 11.63"/>
<text x="1674.8" y="947.1" font-size="64.5" fill="#000" stroke="#000">y1,h<tspan font-size="52.2" dy="30.2">1</tspan><tspan dy="-30.2">=2</tspan></text>
<line x1="1447" y1="1046.5" x2="1660" y2="1046.5" stroke="#00f" stroke-width="4" stroke-dasharray="43.72 23.84"/>
<text x="1674.8" y="1056.8" font-size="64.5" fill="#000" stroke="#000">y1,h<tspan font-size="52.2" dy="30.2">1</tspan><tspan dy="-30.2">=0</tspan></text>
<line x1="1447" y1="1159.4" x2="1660" y2="1159.4" stroke="#000" stroke-width="4"/>
<text x="1674.8" y="1170.7" font-size="64.5" fill="#000" stroke="#000">y2,h<tspan font-size="52.2" dy="30.2">2</tspan><tspan dy="-30.2">=6</tspan></text>
<line x1="1447" y1="1272.4" x2="1660" y2="1272.4" stroke="#f00" stroke-width="4"/>
<text x="1674.8" y="1284.8" font-size="64.5" fill="#000" stroke="#000">y2,h<tspan font-size="52.2" dy="30.2">2</tspan><tspan dy="-30.2">=2</tspan></text>
<line x1="1447" y1="1385.0" x2="1660" y2="1385.0" stroke="#00f" stroke-width="4"/>
<text x="1674.8" y="1394.8" font-size="64.5" fill="#000" stroke="#000">y2,h<tspan font-size="52.2" dy="30.2">2</tspan><tspan dy="-30.2">=0</tspan></text>
</svg></body></html>
